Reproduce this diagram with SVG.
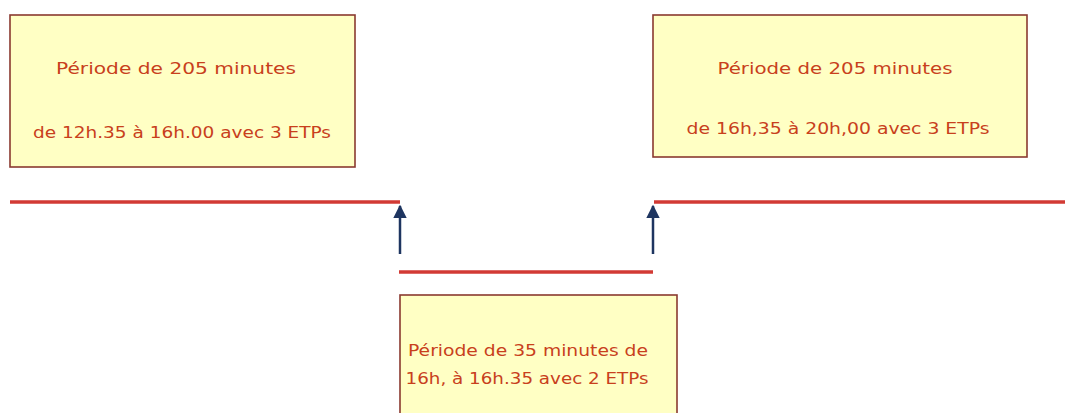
<svg xmlns="http://www.w3.org/2000/svg" width="1065" height="413" viewBox="0 0 1065 413">
<style>
.box{fill:#ffffc4;stroke:#8a3a30;stroke-width:1.6}
.t{font-family:"DejaVu Sans","Liberation Sans",sans-serif;font-size:16px;fill:#c8401c;text-anchor:middle}
.red{stroke:#d23a34;stroke-width:3.5;fill:none}
.arr{stroke:#1e3560;stroke-width:2.5;fill:none;marker-end:url(#ah)}
</style>
<defs>
<marker id="ah" viewBox="0 0 10 10" refX="9" refY="5" markerWidth="5.5" markerHeight="5.5" orient="auto" markerUnits="strokeWidth">
<path d="M0,0 L10,5 L0,10 z" fill="#1e3560"/>
</marker>
</defs>
<rect width="1065" height="413" fill="#ffffff"/>
<g id="box-left">
<rect class="box" x="10" y="15" width="345" height="152"/>
<text class="t" x="176" y="74" textLength="240" lengthAdjust="spacingAndGlyphs">Période de 205 minutes</text>
<text class="t" x="182" y="138" textLength="298" lengthAdjust="spacingAndGlyphs">de 12h.35 à 16h.00 avec 3 ETPs</text>
</g>
<g id="box-right">
<rect class="box" x="653" y="15" width="374" height="142"/>
<text class="t" x="835" y="74" textLength="235" lengthAdjust="spacingAndGlyphs">Période de 205 minutes</text>
<text class="t" x="838" y="134" textLength="303" lengthAdjust="spacingAndGlyphs">de 16h,35 à 20h,00 avec 3 ETPs</text>
</g>
<g id="box-bottom">
<rect class="box" x="400" y="295" width="277" height="125"/>
<text class="t" x="528" y="356" textLength="240" lengthAdjust="spacingAndGlyphs">Période de 35 minutes de</text>
<text class="t" x="527" y="384" textLength="243" lengthAdjust="spacingAndGlyphs">16h, à 16h.35 avec 2 ETPs</text>
</g>
<g id="connectors">
<line class="red" x1="10" y1="202" x2="400" y2="202"/>
<line class="red" x1="654" y1="202" x2="1065" y2="202"/>
<line class="red" x1="399" y1="272" x2="653" y2="272"/>
<line class="arr" x1="400" y1="254" x2="400" y2="206"/>
<line class="arr" x1="653" y1="254" x2="653" y2="206"/>
</g>
</svg>
